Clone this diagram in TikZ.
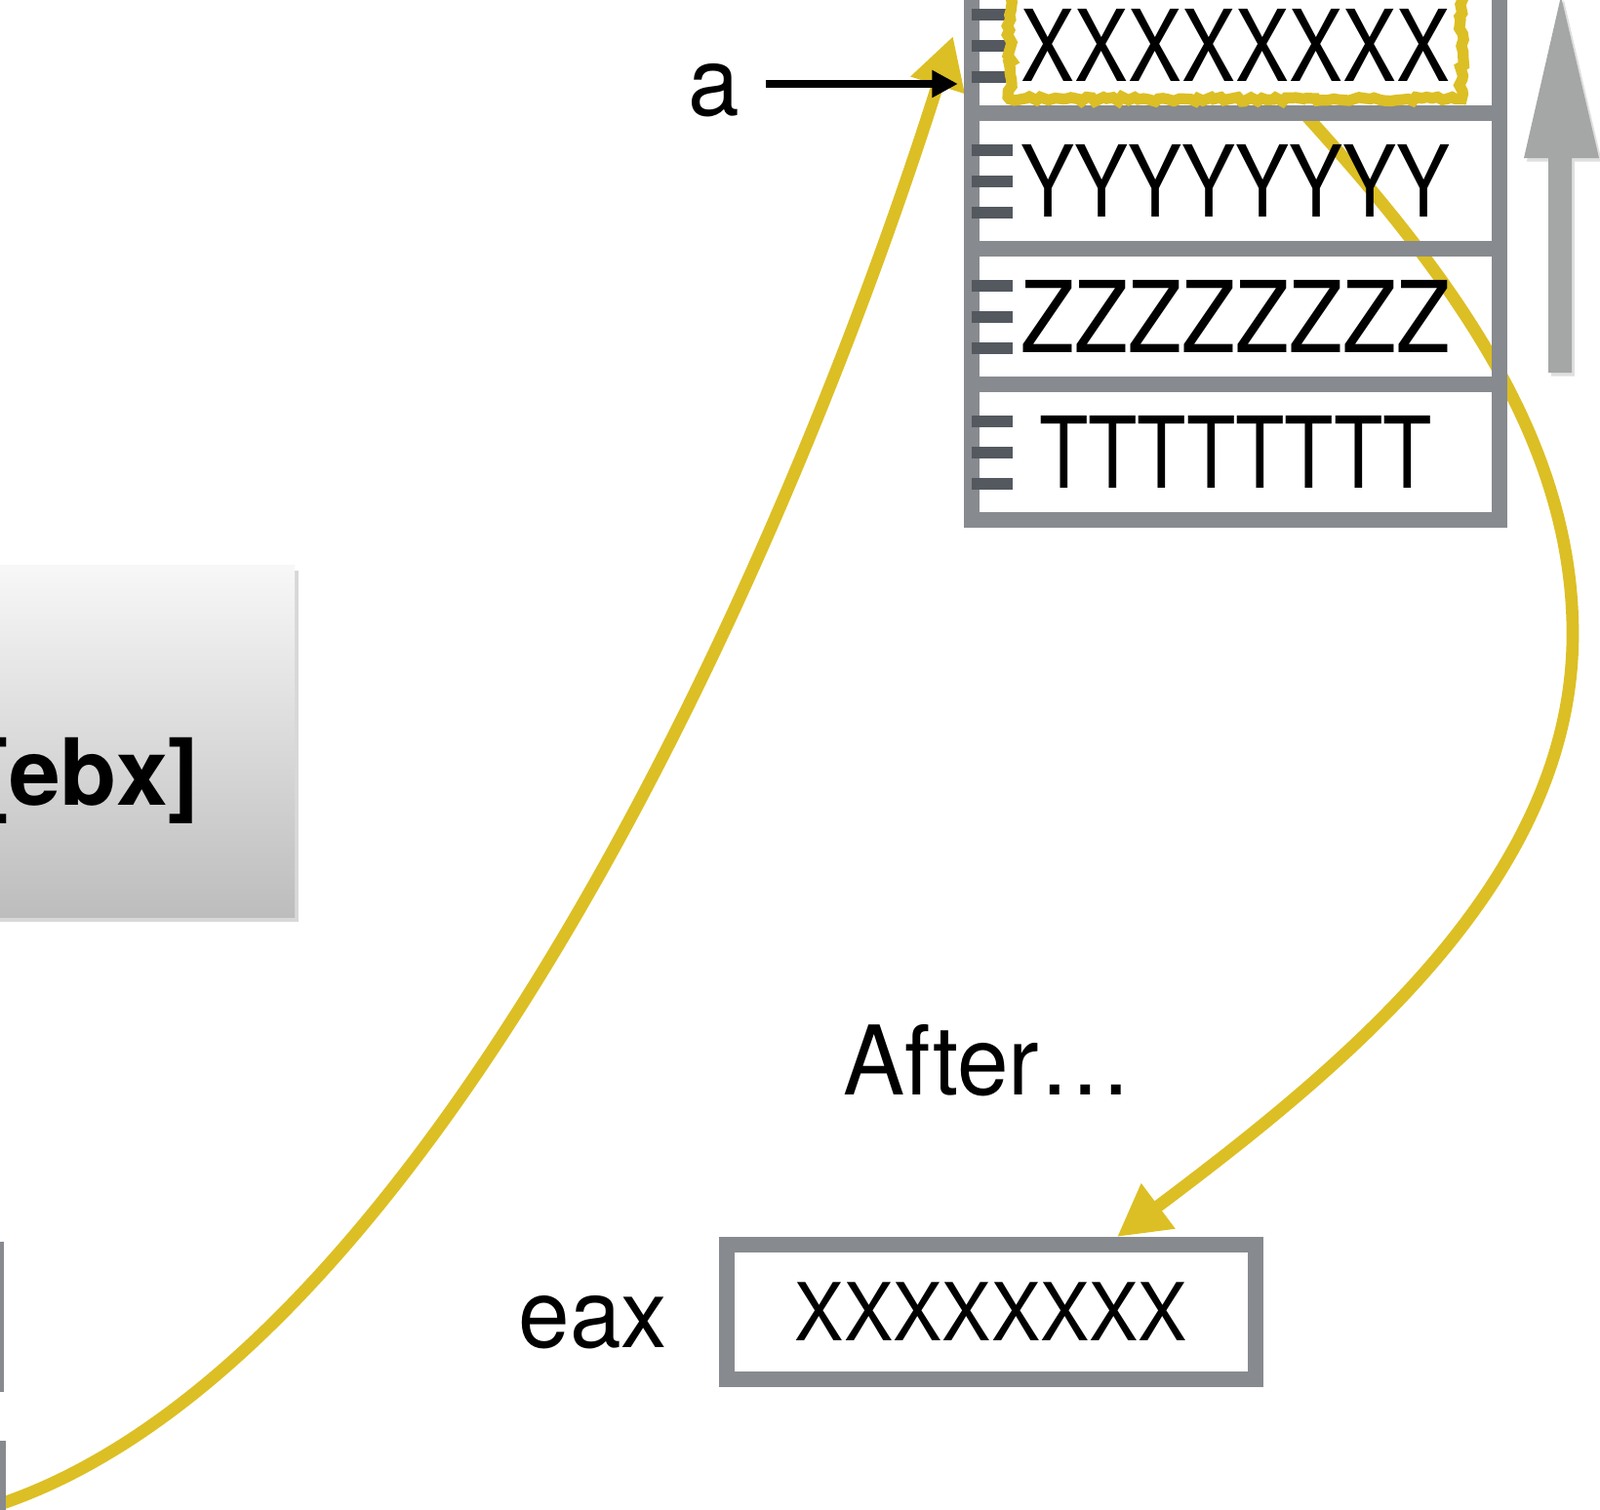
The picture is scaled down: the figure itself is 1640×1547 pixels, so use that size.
\documentclass[tikz,border=0pt]{standalone}
\usepackage{fontspec}
\setmainfont{TeX Gyre Heros}
\newfontfamily\cellfont{TeX Gyre Heros}[FakeStretch=0.81]
\newfontfamily\zcellfont{TeX Gyre Heros}[FakeStretch=0.885]
\newfontfamily\boxfont{TeX Gyre Heros}[FakeStretch=0.92]
\newfontfamily\lblfont{TeX Gyre Heros}[FakeStretch=0.96]
\usetikzlibrary{positioning,arrows.meta,calc,backgrounds,shadows,decorations.pathmorphing}
\definecolor{memgray}{RGB}{135,138,142}
\definecolor{tickgray}{RGB}{84,88,95}
\definecolor{argray}{RGB}{164,167,166}
\definecolor{flowyellow}{RGB}{220,191,36}
\begin{document}
\begin{tikzpicture}[x=0.01cm, y=-0.01cm,
        cell/.style={draw=memgray, line width=4.55pt, minimum width=5.41cm, minimum height=1.39cm,
            outer sep=0pt, inner sep=0pt, font=\cellfont\fontsize{28.9pt}{30pt}\selectfont},
        tick/.style={tickgray, line width=3.4pt},
        lbl/.style={inner sep=0pt, font=\lblfont\fontsize{28pt}{30pt}\selectfont},
        flow/.style={flowyellow, line width=3.6pt, -{Triangle[length=15pt,width=15.5pt]}},
        ptr/.style={line width=2.3pt, -{Triangle[length=7.5pt,width=7.5pt]}}]
    \useasboundingbox (0,0) rectangle (1640,1547);
    \begin{scope}[on background layer]
        \fill[white] (0,0) rectangle (1640,1547);
    \end{scope}
    \clip (0,0) rectangle (1640,1547);

    % instruction box, cut off at the left
    \node[minimum width=7.02cm, minimum height=3.6cm, top color=black!3, bottom color=black!26,
        drop shadow={shadow xshift=1.2pt, shadow yshift=-1.5pt, opacity=0.3}] (ebx) at (-49,760) {};
    \node[anchor=base east, inner sep=0pt, font=\bfseries\fontsize{27pt}{30pt}\selectfont] (ebxtext) at (205,825) {[ebx]};
    \draw[memgray, line width=2.3pt] (0,1273) -- (0,1427);
    \draw[memgray, line width=3.4pt] (0,1477) -- (0,1560);

    % memory
    \node[cell] (X) at (1266.5,46) {XXXXXXXX};
    \node[cell, below=0pt of X] (Y) {YYYYYYYY};
    \node[cell, below=0pt of Y, font=\zcellfont\fontsize{28.9pt}{30pt}\selectfont] (Z) {ZZZZZZZZ};
    \node[cell, below=0pt of Z] (T) {TTTTTTTT};
    \foreach \c in {X,Y,Z,T}
        \foreach \dy in {-31,1,33}
            \draw[tick] (\c.west) ++(0,\dy) -- ++(42,0);
    \draw[flowyellow, line width=3.2pt, decorate, decoration={random steps, segment length=1.5pt, amplitude=0.7pt}]
        ($(X.north west)+(39,-5)$) rectangle ($(X.south east)+(-39,-14)$);

    \fill[argray, drop shadow={shadow xshift=0.8pt, shadow yshift=-1pt, opacity=0.25}]
        (1587,382) -- (1587,162) -- (1562,162) -- (1600,-4) -- (1639,162) -- (1611,162) -- (1611,382) -- cycle;

    \coordinate (aend) at ($(X.west)+(-14,40)$);
    \node[lbl, anchor=base] (alabel) at (732,118) {a};
    \draw[ptr] ($(alabel.east |- aend)+(26,0)$) -- (aend);

    % register after the load
    \node[draw=memgray, line width=4.55pt, minimum width=5.42cm, minimum height=1.38cm,
        font=\boxfont\fontsize{23.3pt}{25pt}\selectfont] (eax) at (1016,1345) {XXXXXXXX};
    \node[lbl, anchor=base] (eaxlbl) at (608,1381) {eax};
    \node[lbl, anchor=base] (after) at (1012,1122) {After…};

    \coordinate (lstart) at (0,1542);
    \coordinate (lend) at ($(X.west)+(-19,-9)$);
    \coordinate (rstart) at ($(X.south)+(66,-4)$);
    \coordinate (rend) at ($(eax.north)+(129,0)$);
    \begin{scope}[on background layer]
        \draw[flow] (lstart) .. controls (432,1396) and (797,607) .. (lend);
        \draw[flow] (rstart) .. controls (1487,281) and (1612,450) .. (1612,650)
            .. controls (1612,900) and (1385,1088) .. (rend);
    \end{scope}
\end{tikzpicture}
\end{document}
